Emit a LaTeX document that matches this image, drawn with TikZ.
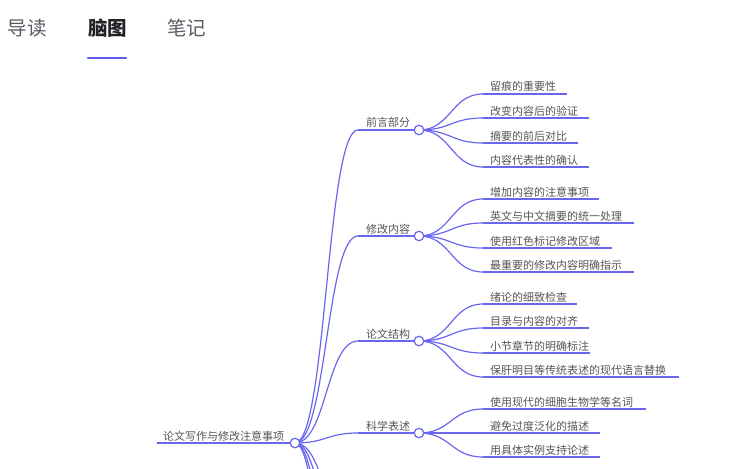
\documentclass[tikz,border=0pt]{standalone}
\usepackage{fontspec}
\setmainfont{Noto Sans CJK SC}
\definecolor{linkc}{RGB}{104,102,238}
\definecolor{tabline}{RGB}{94,92,230}
\definecolor{txt}{RGB}{85,85,85}
\definecolor{tabtxt}{RGB}{90,90,100}
\definecolor{tabsel}{RGB}{34,34,40}
\tikzset{
  x=1pt, y=-1pt,
  link/.style={draw=linkc, line width=1.2pt},
  dotc/.style={circle, draw=linkc, fill=white, line width=1.2pt, minimum size=9.5pt, inner sep=0pt},
  lbl/.style={anchor=base west, inner sep=0pt, font=\fontsize{11}{13}\selectfont, text=txt},
  tab/.style={anchor=center, inner sep=0pt, font=\fontsize{19.5}{22}\selectfont, text=tabtxt},
}
\newcommand{\mmlink}[3]{%
  \draw[link] (#1) .. controls ([xshift=#3pt]#1) and ([xshift=-#3pt]#2) .. (#2);}
\begin{document}
\begin{tikzpicture}
\useasboundingbox (0,0) rectangle (738,468);
\clip (0,0) rectangle (738,468);
% tabs
\node[tab] (t1) at (27.5,28) {导读};
\node[tab, text=tabsel, font=\fontsize{19.5}{22}\selectfont\bfseries] (t2) at (107.5,28) {脑图};
\node[tab] (t3) at (186.5,28) {笔记};
\draw[tabline, line width=2.6pt, line cap=round] (88,58) -- (126,58);

% root
\coordinate (rootL) at (157,443);
\coordinate (rootC) at (295,443);
\node[lbl] (root) at (163,440) {论文写作与修改注意事项};
\draw[link] (rootL) -- (rootC);

% branches
\foreach \n/\y in {b1/130, b2/236, b3/341, b4/433}{
  \coordinate (\n s) at (358,\y);
  \coordinate (\n c) at (419,\y);
}
\foreach \n/\y in {h1/545, h2/620, h3/720, h4/830}{
  \coordinate (\n s) at (358,\y);
}
\foreach \n in {b1,b2,b3,b4,h1,h2,h3,h4}{
  \mmlink{rootC}{\n s}{31.5}
}
\foreach \n in {b1,b2,b3,b4}{
  \draw[link] (\n s) -- (\n c);
}
\node[lbl] (b1t) at (366,127) {前言部分};
\node[lbl] (b2t) at (366,233) {修改内容};
\node[lbl] (b3t) at (366,338) {论文结构};
\node[lbl] (b4t) at (366,430) {科学表述};

% leaves
\foreach \p/\n/\y/\e/\t in {
  b1/l11/94/567/留痕的重要性,
  b1/l12/118/589/改变内容后的验证,
  b1/l13/143/578/摘要的前后对比,
  b1/l14/167/589/内容代表性的确认,
  b2/l21/199/599/增加内容的注意事项,
  b2/l22/223/634/英文与中文摘要的统一处理,
  b2/l23/248/612/使用红色标记修改区域,
  b2/l24/272/634/最重要的修改内容明确指示,
  b3/l31/304/577/绪论的细致检查,
  b3/l32/328/589/目录与内容的对齐,
  b3/l33/353/590/小节章节的明确标注,
  b3/l34/377/679/保肝明目等传统表述的现代语言替换,
  b4/l41/409/646/使用现代的细胞生物学等名词,
  b4/l42/433/600/避免过度泛化的描述,
  b4/l43/457/600/用具体实例支持论述}{
  \coordinate (\n s) at (483,\y);
  \coordinate (\n e) at (\e,\y);
  \mmlink{\p c}{\n s}{32}
  \draw[link] (\n s) -- (\n e);
  \node[lbl] (\n) at (490,\y-3) {\t};
}

% circles on top
\node[dotc] (rootdot) at (rootC) {};
\foreach \n in {b1,b2,b3,b4}{
  \node[dotc] (\n dot) at (\n c) {};
}
\end{tikzpicture}
\end{document}
